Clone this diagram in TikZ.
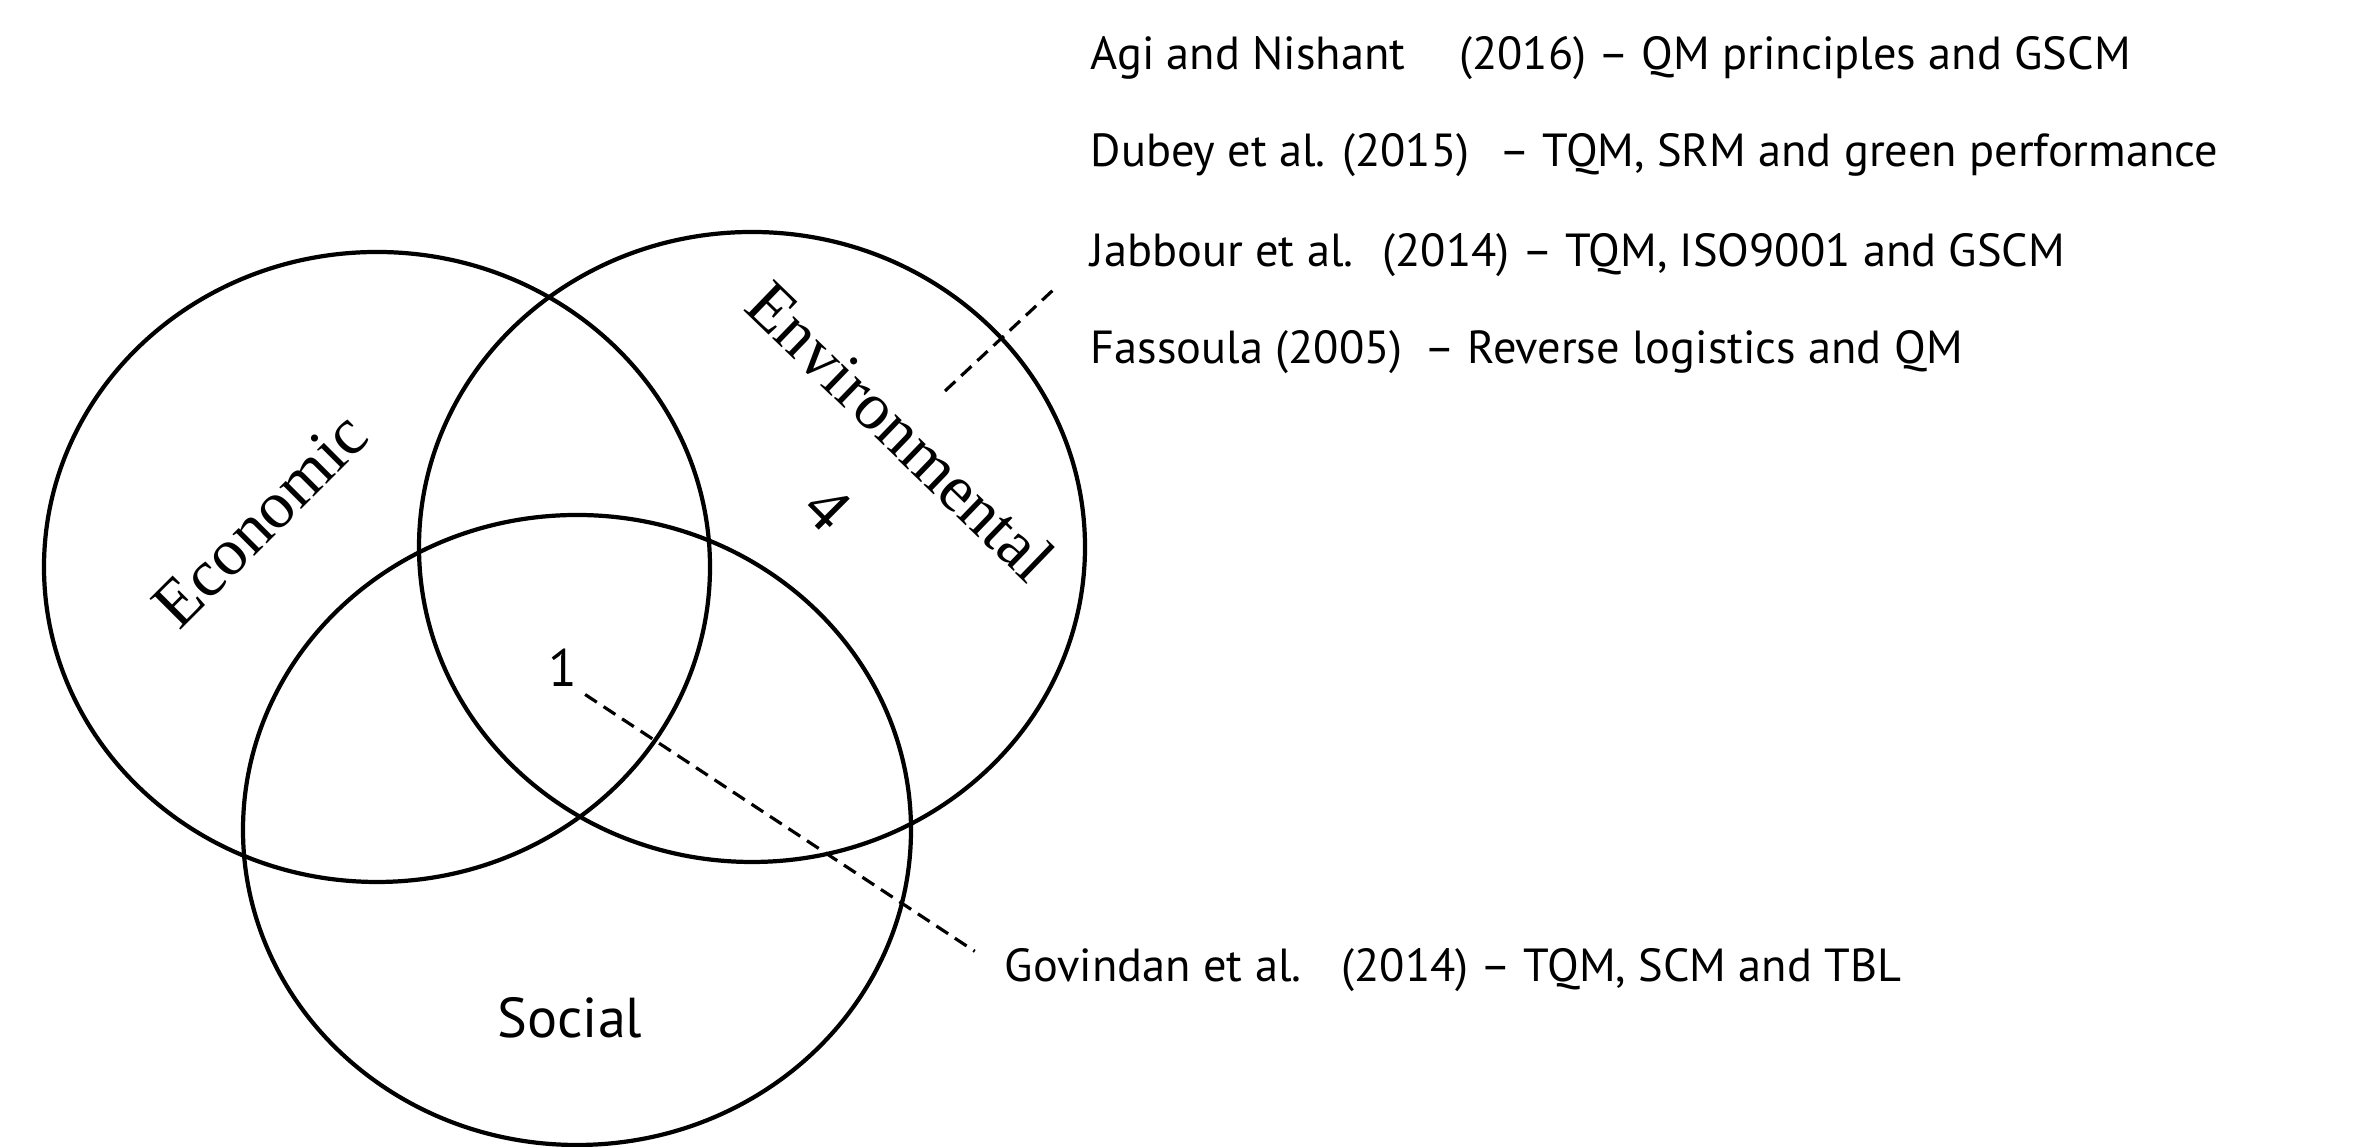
\documentclass[tikz,border=0pt]{standalone}
\usepackage{fontspec}
\newfontfamily\refsans{PT Sans}
\newfontfamily\labelserif{Liberation Serif}
\usetikzlibrary{positioning}

\begin{document}
\begin{tikzpicture}[
    circ/.style={black, line width=1.2pt}, % Style for the three sets
    dimlabel/.style={font=\labelserif\fontsize{19}{22}\selectfont, inner sep=0pt}, % Style for set names
    numlabel/.style={font=\refsans\fontsize{15}{18}\selectfont, inner sep=2pt}, % Style for counts
    reftext/.style={font=\refsans\fontsize{13.2}{16}\selectfont, anchor=base west, inner sep=0pt}, % Style for references
    leader/.style={black, line width=0.9pt, dash pattern=on 4pt off 2.3pt} % Style for dashed pointers
]
    \useasboundingbox (0,0) rectangle (23.58,11.47);

    % The three sets
    \draw[circ] (3.77,5.80) ellipse [x radius=3.33, y radius=3.15]; % Economic
    \draw[circ] (7.52,6.00) ellipse [x radius=3.33, y radius=3.15]; % Environmental
    \draw[circ] (5.77,3.17) ellipse [x radius=3.34, y radius=3.15]; % Social

    % Set names
    \node[dimlabel, rotate=45] (econ) at (2.60,6.27) {Economic};
    \node[dimlabel, rotate=-44] (env) at (9.01,7.16) {Environmental};
    \node[font=\refsans\fontsize{16}{19}\selectfont] (soc) at (5.70,1.29) {Social};

    % Counts
    \node[dimlabel, rotate=-45] (four) at (8.28,6.39) {4};
    \node[numlabel] (one) at (5.63,4.79) {1};
    \coordinate (grp) at (9.45,7.56); % Start of pointer to the environmental studies

    % References
    \node[reftext] (agi) at (10.90,10.77) {Agi and Nishant\hspace{0.54cm}(2016) – QM principles and GSCM};
    \node[reftext] (dubey) at (10.90,9.80) {Dubey et al. (2015)\hspace{0.30cm}– TQM, SRM and green performance};
    \node[reftext] (jabbour) at (10.90,8.80) {Jabbour et al.\hspace{0.29cm}(2014) – TQM, ISO9001 and GSCM};
    \node[reftext] (fassoula) at (10.90,7.83) {Fassoula (2005)\hspace{0.22cm}– Reverse logistics and QM};
    \node[reftext] (govindan) at (10.04,1.65) {Govindan et al.\hspace{0.40cm}(2014) – TQM, SCM and TBL};

    % Pointers
    \draw[leader, shorten >=0.47cm] (grp) -- (jabbour.west);
    \draw[leader, shorten >=0.35cm] (one.south east) -- (govindan.west);

\end{tikzpicture}
\end{document}
